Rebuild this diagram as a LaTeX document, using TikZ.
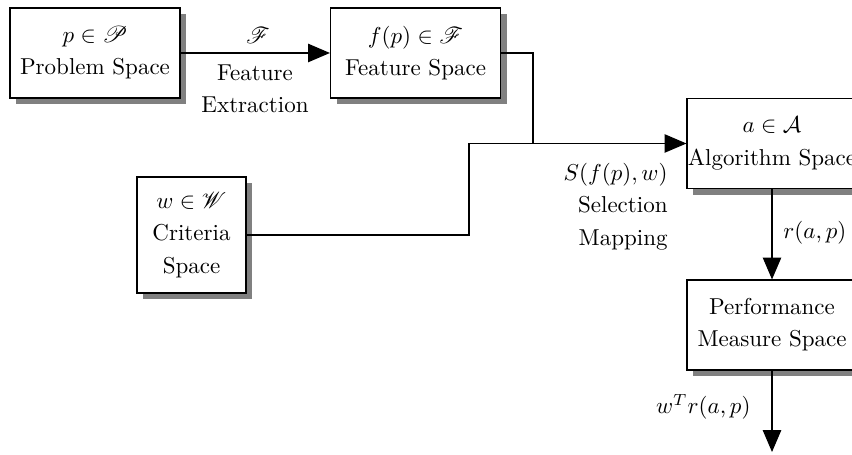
\documentclass[tikz,border=0pt]{standalone}
\usepackage{amsmath,amssymb,mathrsfs}
\usetikzlibrary{arrows.meta,shadows}
\begin{document}
\begin{tikzpicture}[x=0.4348pt,y=-0.4348pt,
  box/.style={draw,fill=white,line width=0.5pt,align=center,inner sep=0pt,
    drop shadow={shadow xshift=2.7pt,shadow yshift=-2.7pt,fill=black!50,opacity=1},
    minimum width=73.9pt,minimum height=39.1pt},
  conn/.style={line width=0.5pt},
  arr/.style={conn,-{Triangle[length=9.5pt,width=8pt]}},
  lbl/.style={inner sep=0pt,align=center}]
\useasboundingbox (0,0) rectangle (852,455);
\node[box] (prob) at (95,53) {$p\in\mathscr{P}$\\[2pt]Problem Space};
\node[box] (feat) at (415.5,53) {$f(p)\in\mathscr{F}$\\[2pt]Feature Space};
\node[box,minimum width=47.4pt,minimum height=50.4pt] (crit) at (191.5,235) {$w\in\mathscr{W}$\\[2pt]Criteria\\[2pt]Space};
\node[box] (alg) at (772,143.5) {$a\in\mathcal{A}$\\[2pt]Algorithm Space};
\node[box] (perf) at (772,325) {Performance\\[2pt]Measure Space};
\coordinate (j1) at (533,53);
\coordinate (j2) at (469,143.5);
\coordinate (j3) at (533,143.5);
\coordinate (endp) at (772,452);
\draw[arr] (prob.east) -- (feat.west);
\node[lbl] (lf) at (258,35) {$\mathscr{F}$};
\node[lbl,anchor=north] (lfe) at (255,64) {Feature\\[2pt]Extraction};
\draw[conn] (feat.east) -- (j1) -- (j3);
\draw[conn] (crit.east) -| (j2) -- (j3);
\draw[arr] (j3) -- (alg.west);
\node[lbl,align=right,anchor=north east] (ls) at (668,163) {$S(f(p),w)$\\[2pt]Selection\\[2pt]Mapping};
\draw[arr] (alg.south) -- (perf.north);
\node[lbl,anchor=west] (lr) at (783,233) {$r(a,p)$};
\draw[arr] (perf.south) -- (endp);
\node[lbl,anchor=east] (lw) at (751,407) {$w^T r(a,p)$};
\end{tikzpicture}
\end{document}
